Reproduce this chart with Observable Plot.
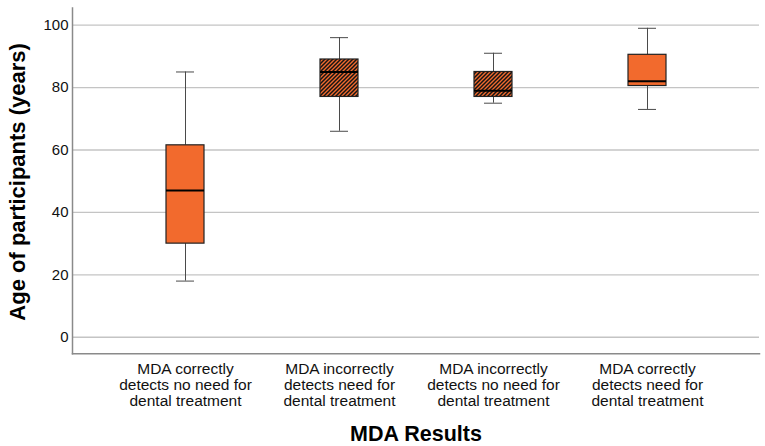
<!DOCTYPE html>
<html>
<head>
<meta charset="utf-8">
<script src="https://cdn.jsdelivr.net/npm/d3@7"></script>
<script src="https://cdn.jsdelivr.net/npm/@observablehq/plot@0.6"></script>
<style>
  html, body { margin: 0; padding: 0; background: #fff; overflow: hidden; }
  #chart svg { display: block; font-family: "Liberation Sans", Arial, sans-serif; }
</style>
</head>
<body>
<div id="chart"></div>
<script>
// ---- data ----
const categories = ["cnn", "ind", "inn", "cd"];
const tickLabels = [
  "MDA correctly\ndetects no need for\ndental treatment",
  "MDA incorrectly\ndetects need for\ndental treatment",
  "MDA incorrectly\ndetects no need for\ndental treatment",
  "MDA correctly\ndetects need for\ndental treatment"
];
const whiskerLow  = [18, 66, 75, 73];
const quartile1   = [30, 77, 77, 80.5];
const medians     = [47, 85, 79, 82];
const quartile3   = [61.5, 89, 85, 90.5];
const whiskerHigh = [85, 96, 91, 99];
const yTicks = [0, 20, 40, 60, 80, 100];
const xTitle = "MDA Results";
const yTitle = "Age of participants (years)";

const data = categories.map((c, i) => ({
  cat: c, lo: whiskerLow[i], q1: quartile1[i], med: medians[i], q3: quartile3[i], hi: whiskerHigh[i]
}));
const labelOf = new Map(categories.map((c, i) => [c, tickLabels[i]]));
const hatchedCats = new Set(["ind", "inn"]);

const orange = "#F26A2D";

const chart = Plot.plot({
  width: 765,
  height: 446,
  marginTop: 7.5,
  marginBottom: 92.7,
  marginLeft: 72,
  marginRight: 6,
  style: {fontFamily: "'Liberation Sans', Arial, sans-serif", color: "#111", background: "#fff"},
  x: {domain: categories, paddingInner: 0, paddingOuter: 0.22},
  y: {domain: [-5.3, 105.5]},
  marks: [
    Plot.gridY(yTicks, {stroke: "#c4c4c4", strokeOpacity: 1, strokeWidth: 1.3}),
    Plot.frame({anchor: "left", stroke: "#8a8a8a", strokeWidth: 1.5}),
    Plot.frame({anchor: "bottom", stroke: "#8a8a8a", strokeWidth: 1.5}),
    Plot.axisY({ticks: yTicks, tickSize: 0, tickPadding: 4, fontSize: 15, label: null, fill: "#111"}),
    Plot.axisX({tickSize: 0, tickPadding: 9, fontSize: 15.5, lineHeight: 1.02, label: null, fill: "#111",
                tickFormat: d => labelOf.get(d)}),
    // whiskers
    Plot.ruleX(data, {x: "cat", y1: "q3", y2: "hi", stroke: "#4a4a4a", strokeWidth: 1}),
    Plot.ruleX(data, {x: "cat", y1: "lo", y2: "q1", stroke: "#4a4a4a", strokeWidth: 1}),
    Plot.tickY(data, {x: "cat", y: "hi", stroke: "#4a4a4a", strokeWidth: 1, insetLeft: 68, insetRight: 68}),
    Plot.tickY(data, {x: "cat", y: "lo", stroke: "#4a4a4a", strokeWidth: 1, insetLeft: 68, insetRight: 68}),
    // boxes
    Plot.barY(data, {x: "cat", y1: "q1", y2: "q3", insetLeft: 58, insetRight: 58,
      fill: d => hatchedCats.has(d.cat) ? "url(#hatch)" : orange,
      stroke: "#222", strokeWidth: 1.2}),
    Plot.tickY(data, {x: "cat", y: "med", stroke: "#000", strokeWidth: 2, insetLeft: 58, insetRight: 58}),
    // titles
    Plot.text([xTitle], {frameAnchor: "bottom", dy: 80, lineAnchor: "middle", textAnchor: "middle",
      fontSize: 21.5, fontWeight: "bold", fill: "#000"}),
    Plot.text([yTitle], {frameAnchor: "left", dx: -55, dy: 1, rotate: -90, lineAnchor: "middle",
      textAnchor: "middle", fontSize: 22, fontWeight: "bold", fill: "#000"})
  ]
});

// hatch pattern definition
const svgNS = "http://www.w3.org/2000/svg";
const defs = document.createElementNS(svgNS, "defs");
defs.innerHTML = `
  <pattern id="hatch" patternUnits="userSpaceOnUse" width="4" height="4">
    <rect width="4" height="4" fill="${orange}"></rect>
    <path d="M-1,1 L1,-1 M0,4 L4,0 M3,5 L5,3" stroke="#141414" stroke-width="1.5"></path>
  </pattern>`;
chart.insertBefore(defs, chart.firstChild);

document.getElementById("chart").appendChild(chart);
</script>
</body>
</html>
